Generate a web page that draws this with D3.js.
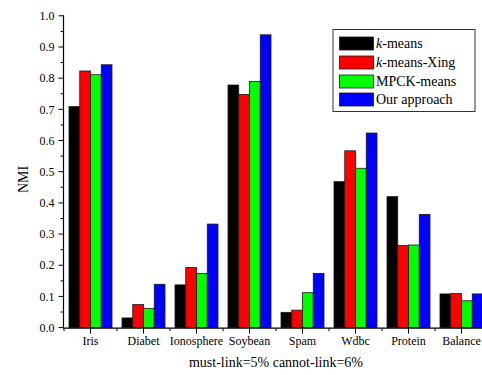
<!DOCTYPE html>
<html>
<head>
<meta charset="utf-8">
<script src="https://cdn.jsdelivr.net/npm/d3@7"></script>
<style>
  html, body { margin: 0; padding: 0; background: #fff; }
  svg { display: block; }
</style>
</head>
<body>
<svg id="chart" width="482" height="375"></svg>
<script>
const categories = ["Iris", "Diabet", "Ionosphere", "Soybean", "Spam", "Wdbc", "Protein", "Balance"];
const seriesNames = ["k-means", "k-means-Xing", "MPCK-means", "Our approach"];
const kmeans      = [0.709, 0.031, 0.137, 0.778, 0.049, 0.468, 0.420, 0.108];
const kmeansXing  = [0.823, 0.074, 0.193, 0.748, 0.056, 0.567, 0.263, 0.109];
const mpckMeans   = [0.811, 0.061, 0.174, 0.789, 0.112, 0.511, 0.265, 0.086];
const ourApproach = [0.843, 0.139, 0.332, 0.939, 0.174, 0.624, 0.363, 0.108];
const colors = ["#000000", "#ff0000", "#00ff00", "#0000ff"];
const yTicks = [0.0, 0.1, 0.2, 0.3, 0.4, 0.5, 0.6, 0.7, 0.8, 0.9, 1.0];
const xTitle = "must-link=5% cannot-link=6%";
const yTitle = "NMI";

const seriesValues = [kmeans, kmeansXing, mpckMeans, ourApproach];
const FONT = "Liberation Serif";

const svg = d3.select("#chart");
const left = 64, step = 53;
const x = d3.scaleBand().domain(categories).range([left, left + step * categories.length])
  .paddingInner(10 / 53).paddingOuter(5 / 53);
const xs = d3.scaleBand().domain(seriesNames).range([0, x.bandwidth()]);
const y = d3.scaleLinear().domain([0, 1]).range([327.6, 15.8]);

// bars
categories.forEach((c, i) => {
  const g = svg.append("g").attr("transform", `translate(${x(c)},0)`);
  seriesNames.forEach((s, j) => {
    const v = seriesValues[j][i];
    g.append("rect")
      .attr("x", xs(s))
      .attr("y", y(v))
      .attr("width", xs.bandwidth())
      .attr("height", y(0) - y(v))
      .attr("fill", colors[j])
      .attr("stroke", "#1a1a1a")
      .attr("stroke-width", 0.8);
  });
});

// y axis
const yAxis = svg.append("g").attr("transform", "translate(63.5,0)");
yAxis.append("line").attr("x1", 0).attr("x2", 0).attr("y1", y(1) - 0.5).attr("y2", y(0)).attr("stroke", "#000").attr("stroke-width", 1.2);
const minorY = d3.range(0, 1.0001, 0.05);
minorY.forEach(v => {
  const major = Math.abs(Math.round(v * 10) - v * 10) < 1e-6;
  yAxis.append("line").attr("x1", major ? -5 : -3).attr("x2", 0)
    .attr("y1", y(v)).attr("y2", y(v)).attr("stroke", "#000").attr("stroke-width", 1);
});
yTicks.forEach(v => {
  yAxis.append("text").attr("x", -9).attr("y", y(v)).attr("dy", "0.35em")
    .attr("text-anchor", "end").attr("font-size", 12).attr("font-family", FONT).attr("fill", "#000")
    .text(v.toFixed(1));
});

// x axis
const xAxis = svg.append("g").attr("transform", `translate(0,${y(0) + 0.5})`);
xAxis.append("line").attr("x1", 63).attr("x2", left + step * categories.length).attr("y1", 0).attr("y2", 0)
  .attr("stroke", "#000").attr("stroke-width", 1.2);
d3.range(categories.length + 1).forEach(k => {
  const xx = left + k * step;
  xAxis.append("line").attr("x1", xx).attr("x2", xx).attr("y1", 0).attr("y2", 3).attr("stroke", "#000");
});
categories.forEach(c => {
  const cx = x(c) + x.bandwidth() / 2;
  xAxis.append("line").attr("x1", cx).attr("x2", cx).attr("y1", 0).attr("y2", 5.5).attr("stroke", "#000");
  xAxis.append("text").attr("x", cx).attr("y", 17).attr("text-anchor", "middle")
    .attr("font-size", 12).attr("font-family", FONT).attr("fill", "#000").text(c);
});

// titles
svg.append("text").attr("x", 276).attr("y", 367).attr("text-anchor", "middle")
  .attr("font-size", 14).attr("font-family", FONT).attr("fill", "#000").text(xTitle);
svg.append("text").attr("transform", "translate(27.5,179.5) rotate(-90)")
  .attr("text-anchor", "middle").attr("font-size", 14).attr("font-family", FONT).attr("fill", "#000").text(yTitle);

// legend
const lg = svg.append("g");
lg.append("rect").attr("x", 333).attr("y", 29.5).attr("width", 142).attr("height", 82)
  .attr("fill", "#fff").attr("stroke", "#333").attr("stroke-width", 1);
const rowTop = [37, 56, 75, 93];
seriesNames.forEach((s, j) => {
  lg.append("rect").attr("x", 339.5).attr("y", rowTop[j]).attr("width", 34).attr("height", 13)
    .attr("fill", colors[j]).attr("stroke", "#1a1a1a").attr("stroke-width", 0.8);
  const t = lg.append("text").attr("x", 376).attr("y", rowTop[j] + 11).attr("font-size", 14)
    .attr("font-family", FONT).attr("fill", "#000");
  if (s.startsWith("k-")) {
    t.append("tspan").attr("font-style", "italic").text("k");
    t.append("tspan").text(s.slice(1));
  } else {
    t.text(s);
  }
});
</script>
</body>
</html>
